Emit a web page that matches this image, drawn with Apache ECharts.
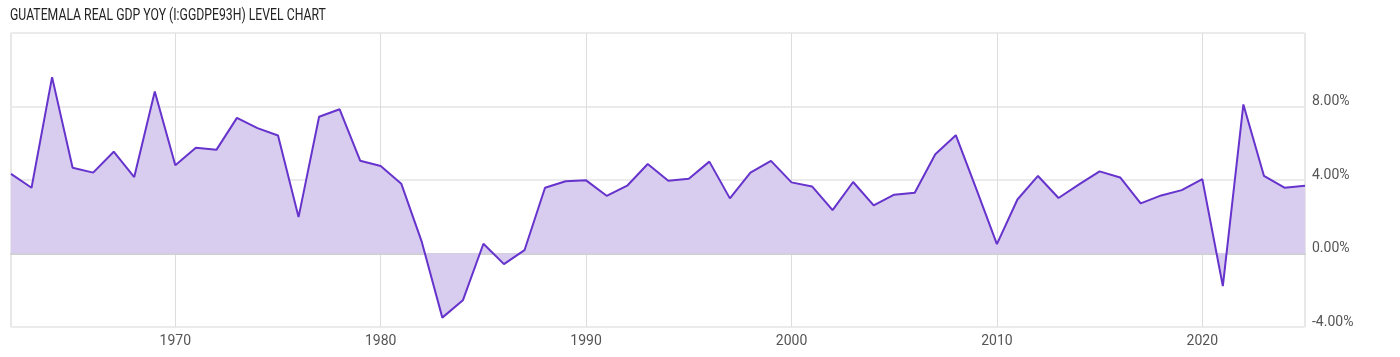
<!DOCTYPE html>
<html>
<head>
<meta charset="utf-8">
<script src="https://cdn.jsdelivr.net/npm/echarts@6/dist/echarts.min.js"></script>
<style>
html,body{margin:0;padding:0;background:#fff;}
#chart{width:1400px;height:357px;}
</style>
</head>
<body>
<div id="chart"></div>
<script>
const years = [];
for (let y = 1962; y <= 2025; y++) years.push(String(y));
const gdpYoY = [
  4.33, 3.58, 9.60, 4.67, 4.40, 5.54, 4.16, 8.82,
  4.80, 5.76, 5.64, 7.38, 6.82, 6.42, 1.98, 7.44, 7.85, 5.05,
  4.76, 3.80, 0.63, -3.49, -2.55, 0.53, -0.58, 0.18, 3.58, 3.93,
  3.98, 3.14, 3.69, 4.87, 3.96, 4.07, 5.00, 3.00, 4.40, 5.04,
  3.87, 3.65, 2.36, 3.89, 2.62, 3.20, 3.31, 5.40, 6.44, 3.50,
  0.51, 2.94, 4.22, 3.02, 3.76, 4.47, 4.14, 2.73, 3.16, 3.45,
  4.05, -1.77, 8.11, 4.23, 3.58, 3.69
];
const yTicks = [-4, 0, 4, 8, 12];
const titleText = 'GUATEMALA REAL GDP YOY (I:GGDPE93H) LEVEL CHART';

const font = 'Roboto, sans-serif';
const chart = echarts.init(document.getElementById('chart'), null, {renderer: 'canvas'});
chart.setOption({
  animation: false,
  backgroundColor: '#fff',
  graphic: [{
    type: 'text',
    x: 10, y: 8,
    scaleX: 0.765,
    style: {text: titleText, fontFamily: font, fontSize: 16, fill: '#222', textVerticalAlign: 'top'}
  }],
  grid: {left: 11, right: 95, top: 33, bottom: 30, show: true, borderColor: '#d0d0d0', borderWidth: 1},
  xAxis: {
    type: 'category',
    data: years,
    boundaryGap: false,
    axisLine: {show: true, lineStyle: {color: '#d0d0d0', width: 2}},
    axisTick: {show: false},
    axisLabel: {
      interval: (i, v) => Number(v) % 10 === 0,
      color: '#555', fontFamily: font, fontSize: 14, margin: 7
    },
    splitLine: {
      show: true,
      interval: (i, v) => Number(v) % 10 === 0,
      lineStyle: {color: '#dddddd', width: 1}
    }
  },
  yAxis: {
    type: 'value',
    position: 'right',
    min: yTicks[0], max: yTicks[yTicks.length - 1], interval: 4,
    axisLine: {show: false},
    axisTick: {show: false},
    axisLabel: {
      showMaxLabel: false,
      formatter: v => v.toFixed(2) + '%',
      color: '#555', fontFamily: font, fontSize: 14, margin: 7,
      verticalAlign: 'bottom', lineHeight: 10
    },
    splitLine: {show: true, lineStyle: {color: '#ebebeb', width: 2}}
  },
  series: [{
    type: 'line',
    data: gdpYoY,
    symbol: 'none',
    lineStyle: {color: '#6633cc', width: 2},
    itemStyle: {color: '#6633cc'},
    areaStyle: {color: '#d8cdef', opacity: 1}
  }]
});
</script>
</body>
</html>
